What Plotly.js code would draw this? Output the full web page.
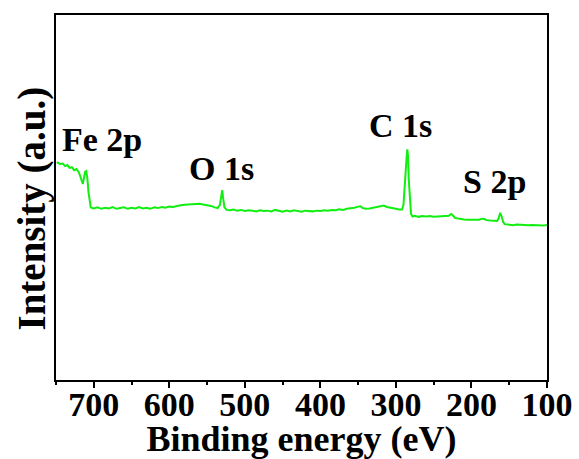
<!DOCTYPE html>
<html>
<head>
<meta charset="utf-8">
<script src="https://cdn.plot.ly/plotly-3.0.1.min.js"></script>
<style>html,body{margin:0;padding:0;background:#fff;}#chart{width:579px;height:459px;}</style>
</head>
<body>
<div id="chart"></div>
<script>
// Binding energy (eV)
const bindingEnergy = [
 749,745,741,738,735,732,729,726,723,720,718,716,714.5,713,711.5,710,708.5,707,705.5,704,702,
 700,695,690,685,680,675,670,665,660,655,650,645,640,635,630,625,620,615,610,605,600,595,590,585,580,575,570,565,560,555,550,545,540,536,533,531.5,530,528.5,527,524,
 520,515,510,505,500,495,490,485,480,475,470,465,460,455,450,445,440,435,430,425,420,415,410,405,400,395,390,385,380,375,370,365,360,355,350,347,344,340,335,330,325,320,316,312,308,304,300,296,292,290,288,286.5,285,284,283,281.5,280,278,
 275,270,265,260,255,250,245,240,235,230,227,225,222,218,214,210,205,200,195,190,186,183,180,175,170,166,164,162,160,158,156,150,145,140,135,130,125,120,115,110,105,100
];
// Intensity (a.u.)
const intensity = [
 59.7,59.2,59.3,58.6,58.9,58.1,58.3,57.5,57.8,57.0,55.9,54.5,53.7,55.3,57.0,57.2,55.3,51.5,48.5,47.3,47.1,
 47.0,47.3,46.9,47.2,47.0,47.4,46.9,47.1,47.3,46.9,47.2,47.0,47.4,47.0,47.2,46.9,47.3,47.1,47.4,47.2,47.5,47.4,47.7,47.9,48.0,48.1,48.2,48.1,48.3,48.1,48.0,47.7,47.3,47.1,48.0,50.5,52.0,49.5,47.3,46.6,
 46.5,46.7,46.4,46.6,46.3,46.5,46.4,46.2,46.5,46.3,46.4,46.2,46.6,46.3,46.1,46.4,46.2,46.5,46.3,46.1,46.4,46.3,46.2,46.4,46.3,46.5,46.4,46.6,46.5,46.8,46.6,46.9,47.0,47.2,47.5,47.6,47.1,46.9,47.0,47.2,47.4,47.7,47.8,47.4,47.3,47.2,46.9,46.7,46.7,48.0,53.0,59.0,63.2,61.5,55.0,49.0,45.5,44.8,
 45.0,44.7,44.9,44.8,44.9,44.7,44.8,44.9,44.8,45.0,45.5,45.2,44.4,44.2,44.0,44.0,43.9,44.0,43.9,43.9,44.2,44.1,43.8,43.7,43.6,43.6,44.3,45.8,44.8,43.3,42.7,42.6,42.4,42.6,42.5,42.6,42.4,42.5,42.4,42.5,42.3,42.5
];
// Peak labels
const peakLabels = ["Fe 2p", "O 1s", "C 1s", "S 2p"];
const peakLabelX = [689, 530.6, 293.9, 169];
const peakLabelY = [66.0, 58.0, 69.8, 54.3];
const xTickValues = [700, 600, 500, 400, 300, 200, 100];
const yTitle = 'Intensity (a.u.)';
const xTitle = 'Binding energy (eV)';

const font = "'Times New Roman', 'Liberation Serif', serif";

const trace = {
  x: bindingEnergy, y: intensity, type: 'scatter', mode: 'lines',
  line: {color: '#11ee11', width: 2}, showlegend: false, hoverinfo: 'skip'
};

const annotations = peakLabels.map((t, i) => ({
  x: peakLabelX[i], y: peakLabelY[i], xref: 'x', yref: 'y',
  text: '<b>' + t + '</b>', showarrow: false, xanchor: 'center', yanchor: 'middle',
  font: {family: font, size: 34, color: '#000'}
}));
annotations.push({
  x: -0.048, y: 0.471, xref: 'paper', yref: 'paper', textangle: -90,
  text: '<b>' + yTitle + '</b>', showarrow: false, xanchor: 'center', yanchor: 'middle',
  font: {family: font, size: 39, color: '#000'}
});

const layout = {
  width: 579, height: 459,
  margin: {l: 56, r: 31.5, t: 14.5, b: 78.5},
  paper_bgcolor: '#fff', plot_bgcolor: '#fff',
  font: {family: font, color: '#000'},
  xaxis: {
    range: [750, 100], tickvals: xTickValues, ticktext: xTickValues.map(v => '<b>' + v + '</b>'),
    ticks: 'outside', ticklen: 6, tickwidth: 2, tickcolor: '#000',
    ticklabelstandoff: -13,
    minor: {dtick: 50, tick0: 0, ticks: 'outside', ticklen: 3, tickwidth: 2, tickcolor: '#000'},
    showline: true, linewidth: 2, linecolor: '#000', mirror: true,
    showgrid: false, zeroline: false,
    tickfont: {family: font, size: 34, color: '#000'},
    title: {text: '<b>' + xTitle + '</b>', font: {family: font, size: 36, color: '#000'}, standoff: 0}
  },
  yaxis: {
    range: [0, 100], showticklabels: false, ticks: '',
    showline: true, linewidth: 2, linecolor: '#000', mirror: true,
    showgrid: false, zeroline: false
  },
  annotations: annotations
};

Plotly.newPlot('chart', [trace], layout, {displayModeBar: false, staticPlot: true});
</script>
</body>
</html>
